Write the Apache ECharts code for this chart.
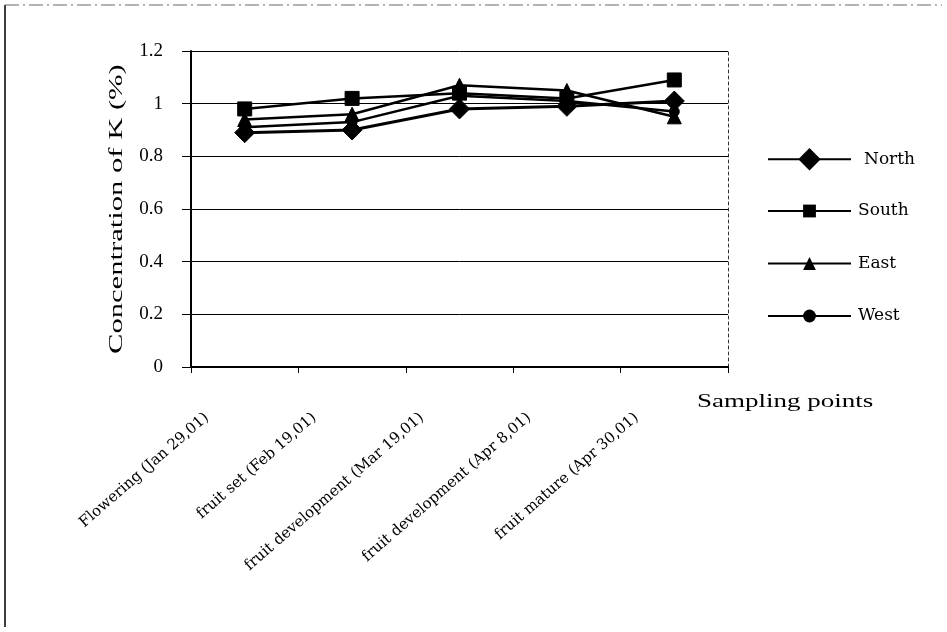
<!DOCTYPE html>
<html>
<head>
<meta charset="utf-8">
<script src="https://cdn.jsdelivr.net/npm/echarts@6/dist/echarts.min.js"></script>
<style>
  html, body { margin: 0; padding: 0; background: #fff; }
  #chart { width: 947px; height: 632px; }
</style>
</head>
<body>
<div id="chart"></div>
<script>
// Sampling stages (x-axis categories)
const stages = [
  'Flowering (Jan 29,01)',
  'fruit set (Feb 19,01)',
  'fruit development (Mar 19,01)',
  'fruit development (Apr 8,01)',
  'fruit mature (Apr 30,01)'
];

// Potassium concentration (%) by orchard side
const north = [0.89, 0.90, 0.98, 0.99, 1.01];
const south = [0.98, 1.02, 1.04, 1.02, 1.09];
const east  = [0.94, 0.96, 1.07, 1.05, 0.95];
const west  = [0.91, 0.93, 1.03, 1.01, 0.97];

const yTicks = { min: 0, max: 1.2, step: 0.2 };

const serif = 'Liberation Serif, Times New Roman, serif';
const wideSerif = 'DejaVu Serif, serif';

const chart = echarts.init(document.getElementById('chart'), null, { renderer: 'canvas' });

function lineSeries(name, data, symbol, size, width, z) {
  return {
    name: name,
    type: 'line',
    data: data,
    symbol: symbol,
    symbolSize: size,
    z: z,
    lineStyle: { color: '#000', width: width },
    itemStyle: { color: '#000', borderColor: '#000' },
    emphasis: { disabled: true },
    animation: false
  };
}

chart.setOption({
  backgroundColor: '#fff',
  animation: false,
  grid: { left: 191, right: 219, top: 51, bottom: 265 },
  xAxis: {
    type: 'category',
    data: stages,
    boundaryGap: true,
    axisLine: { lineStyle: { color: '#000', width: 2 } },
    axisTick: { show: true, length: 6, lineStyle: { color: '#000' }, interval: 0 },
    axisLabel: {
      interval: 0,
      rotate: 41,
      margin: 16,
      padding: [0, 50, 0, 0],
      fontFamily: wideSerif,
      fontSize: 15,
      color: '#000'
    },
    splitLine: { show: false }
  },
  yAxis: [
    {
      type: 'value',
      min: yTicks.min,
      max: yTicks.max,
      interval: yTicks.step,
      axisLine: { show: true, lineStyle: { color: '#000', width: 2 } },
      axisTick: { show: true, length: 9, lineStyle: { color: '#000' } },
      axisLabel: { margin: 28, fontFamily: serif, fontSize: 19, color: '#000' },
      splitLine: { show: true, lineStyle: { color: '#000', width: 1 } }
    },
    {
      // right-hand frame edge of the plot area
      type: 'value',
      position: 'right',
      min: yTicks.min,
      max: yTicks.max,
      interval: yTicks.step,
      axisLine: { show: true, lineStyle: { color: '#333', width: 1, type: [3, 3] } },
      axisTick: { show: false },
      axisLabel: { show: false },
      splitLine: { show: false }
    }
  ],
  legend: [
    {
      data: ['North'],
      orient: 'vertical',
      left: 762,
      top: 143,
      itemWidth: 83,
      itemHeight: 28,
      itemGap: 0,
      textStyle: { fontFamily: wideSerif, fontSize: 17, color: '#000', padding: [0, 0, 0, 8] },
      selectedMode: false
    },
    {
      data: ['South', 'East', 'West'],
      orient: 'vertical',
      left: 762,
      top: 196,
      itemWidth: 83,
      itemHeight: 16,
      itemGap: 32.5,
      textStyle: { fontFamily: wideSerif, fontSize: 17, lineHeight: 20, color: '#000', padding: [0, 0, 0, 2] },
      selectedMode: false
    }
  ],
  graphic: [
    {
      // y-axis title, drawn wide as in the original typesetting
      type: 'text',
      x: 108,
      y: 354,
      rotation: Math.PI / 2,
      scaleX: 1.7,
      style: { text: 'Concentration of K (%)', font: '18px ' + serif, fill: '#000', textVerticalAlign: 'top' }
    },
    {
      type: 'text',
      x: 697,
      y: 393,
      scaleX: 1.5,
      style: { text: 'Sampling points', font: '18px ' + serif, fill: '#000' }
    },
    {
      type: 'line',
      shape: { x1: 5, y1: 5, x2: 5, y2: 627 },
      style: { stroke: '#000', lineWidth: 1.5 }
    },
    {
      type: 'line',
      shape: { x1: 5, y1: 5, x2: 942, y2: 5 },
      style: { stroke: '#666', lineWidth: 1, lineDash: [14, 4, 2, 4] }
    }
  ],
  series: [
    lineSeries('West', west, 'circle', 10, 2.5, 2),
    lineSeries('East', east, 'triangle', 14, 2.5, 3),
    lineSeries('South', south, 'rect', 14, 2.5, 4),
    lineSeries('North', north, 'diamond', 20, 3, 5)
  ]
});
</script>
</body>
</html>
